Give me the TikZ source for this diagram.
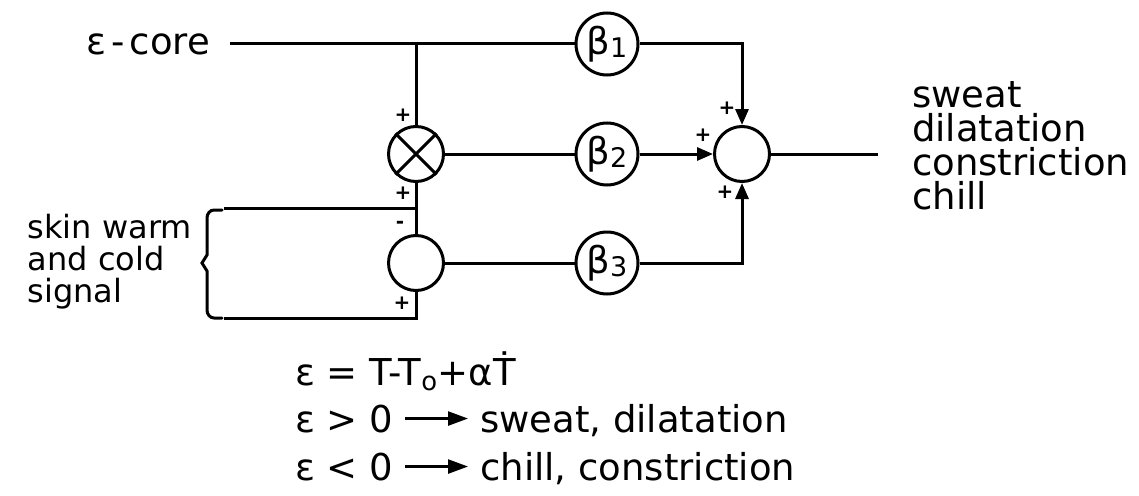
\documentclass[tikz,border=0pt]{standalone}
\usepackage{fontspec}
\setmainfont{DejaVu Sans}
\usetikzlibrary{arrows.meta,positioning}

\newcommand{\idx}[1]{{\fontsize{27}{27}\selectfont\raisebox{-3pt}{#1}}}

\begin{document}
\begin{tikzpicture}[x=1pt,y=-1pt,
      every node/.style={font=\fontsize{37}{34}\selectfont},
      wire/.style={line width=3pt},
      arr/.style={wire,-{Triangle[length=16pt,width=13pt]}},
      earr/.style={line width=2.5pt,-{Triangle[length=20pt,width=14pt]},
                   shorten <=12pt,shorten >=12pt},
      gain/.style={draw,circle,line width=3pt,minimum size=62pt,inner sep=0pt},
      junc/.style={draw,circle,line width=3pt,minimum size=55pt,inner sep=0pt},
      sgn/.style={font=\fontsize{20}{20}\selectfont\bfseries,inner sep=0pt},
      lbl/.style={inner sep=0pt,align=left},
    ]
      \useasboundingbox (0,0) rectangle (1139,495);
      % blocks
      \node[gain] (b1)  at (607,44)  {β\idx{1}};
      \node[gain] (b2)  at (607,154) {β\idx{2}};
      \node[gain] (b3)  at (607,263) {β\idx{3}};
      \node[junc] (mult) at (416,154) {};
      \node[junc] (cmp)  at (416,263) {};
      \node[junc] (sum)  at (742,154) {};
      \draw[wire] (mult.north west) -- (mult.south east)
                  (mult.north east) -- (mult.south west);
      % labels
      \node[lbl,anchor=east] (core) at (210,44) {ε\kern5pt-\kern5pt core};
      \node[lbl,anchor=east,font=\fontsize{32}{32}\selectfont] (skin) at (192,262)
           {skin warm\\and cold\\signal};
      \node[lbl,anchor=west] (resp) at (912,146)
           {sweat\\dilatation\\constriction\\chill};
      % wiring
      \coordinate (j1)  at (mult |- b1);
      \coordinate (skt) at (224,208);
      \coordinate (skb) at (224,318);
      \coordinate (out) at (878,154);
      \draw[wire] (core.east) ++(20,0) -- (b1);
      \draw[wire] (j1) -- (mult);
      \draw[wire] (mult) -- (b2);
      \draw[wire] (mult) -- (cmp);
      \draw[wire] (skt) -- (skt -| cmp);
      \draw[wire] (skb) -| (cmp);
      \draw[wire] (cmp) -- (b3);
      \draw[wire] (sum) -- (out);
      \draw[arr] (b1) -| (sum);
      \draw[arr] (b2) -- (sum);
      \draw[arr] (b3) -| (sum);
      % brace
      \draw[wire,line cap=round] (222,210) -- (214,210) to[out=180,in=90] (207,218)
            -- (207,255) -- (202,263) -- (207,271) -- (207,310)
            to[out=-90,in=180] (214,318) -- (222,318);
      % signs
      \node[sgn] (p1) at (403,115) {+};
      \node[sgn] (p2) at (403,193) {+};
      \node[sgn] (m3) at (400,225) {-};
      \node[sgn] (p4) at (402,303) {+};
      \node[sgn] (p5) at (727,108) {+};
      \node[sgn] (p6) at (703,135) {+};
      \node[sgn] (p7) at (725,192) {+};
      % error law
      \node[lbl,anchor=base west] (law) at (295,385) {ε = T-T\textsubscript{o}+αṪ};
      \node[lbl,anchor=base west] (pos) at (295,432) {ε > 0};
      \node[lbl,anchor=base west] (neg) at (295,480) {ε < 0};
      \node[lbl,anchor=base west] (posr) at (480,432) {sweat, dilatation};
      \node[lbl,anchor=base west] (negr) at (480,480) {chill, constriction};
      \draw[earr] (pos.east) -- (pos.east -| posr.west);
      \draw[earr] (neg.east) -- (neg.east -| negr.west);
    \end{tikzpicture}
\end{document}
